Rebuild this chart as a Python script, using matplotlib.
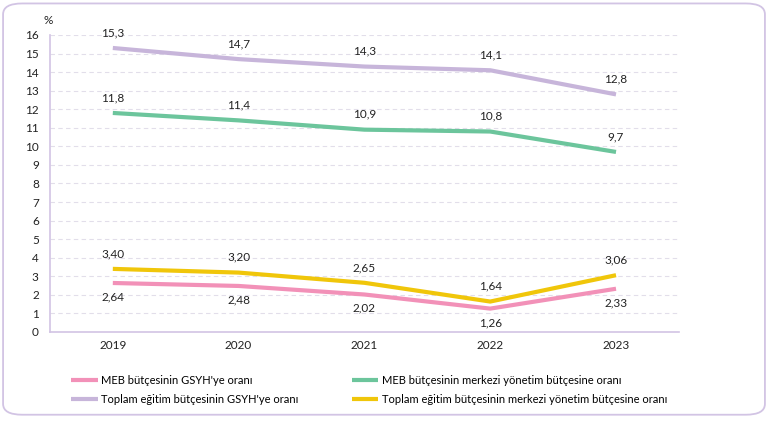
import matplotlib.pyplot as plt
from matplotlib.patches import FancyBboxPatch

plt.rcParams['font.family'] = ['Lato', 'DejaVu Sans']

years = ['2019', '2020', '2021', '2022', '2023']
meb_gsyh = [2.64, 2.48, 2.02, 1.26, 2.33]
meb_merkezi = [11.8, 11.4, 10.9, 10.8, 9.7]
toplam_gsyh = [15.3, 14.7, 14.3, 14.1, 12.8]
toplam_merkezi = [3.40, 3.20, 2.65, 1.64, 3.06]

meb_gsyh_lbl = ['2,64', '2,48', '2,02', '1,26', '2,33']
meb_merkezi_lbl = ['11,8', '11,4', '10,9', '10,8', '9,7']
toplam_gsyh_lbl = ['15,3', '14,7', '14,3', '14,1', '12,8']
toplam_merkezi_lbl = ['3,40', '3,20', '2,65', '1,64', '3,06']

names = ["MEB bütçesinin GSYH'ye oranı",
         "MEB bütçesinin merkezi yönetim bütçesine oranı",
         "Toplam eğitim bütçesinin GSYH'ye oranı",
         "Toplam eğitim bütçesinin merkezi yönetim bütçesine oranı"]

pink = '#f291b8'
green = '#6cc59c'
lilac = '#c7b5da'
yellow = '#f0c60a'
border = '#d2c4e4'

fig = plt.figure(figsize=(7.68, 4.32), dpi=100)
fig.patches.append(FancyBboxPatch((0.004, 0.04), 0.992, 0.952,
                                  boxstyle='round,pad=0,rounding_size=0.025',
                                  transform=fig.transFigure, fill=False,
                                  edgecolor=border, linewidth=1.3))

ax = fig.add_axes([0.065, 0.2315, 0.819, 0.6875])
x = list(range(len(years)))

series = [(meb_gsyh, meb_gsyh_lbl, pink, -10),
          (meb_merkezi, meb_merkezi_lbl, green, 11),
          (toplam_gsyh, toplam_gsyh_lbl, lilac, 11),
          (toplam_merkezi, toplam_merkezi_lbl, yellow, 11)]

lines = []
for (vals, lbls, col, off), name in zip(series, names):
    ln, = ax.plot(x, vals, color=col, lw=3, label=name, solid_capstyle='butt')
    lines.append(ln)
    for xi, v, t in zip(x, vals, lbls):
        ax.annotate(t, (xi, v), xytext=(0, off), textcoords='offset points',
                    ha='center', va='center', fontsize=8.5, color='#222222')

ax.set_xlim(-0.5, 4.5)
ax.set_ylim(0, 16)
ax.set_yticks(range(0, 17))
ax.set_xticks(x)
ax.set_xticklabels(years)
ax.tick_params(length=0, labelsize=8.5, colors='#222222')
ax.tick_params(axis='x', pad=6)
ax.tick_params(axis='y', pad=8)
ax.grid(axis='y', color='#e2deea', linestyle=(0, (4, 3)), lw=0.8)
ax.set_axisbelow(True)
for s in ['top', 'right']:
    ax.spines[s].set_visible(False)
for s in ['left', 'bottom']:
    ax.spines[s].set_color(border)
    ax.spines[s].set_linewidth(1.2)

fig.text(0.063, 0.952, '%', fontsize=8.5, ha='center', va='center', color='#222222')

leg_kw = dict(loc='upper left', frameon=False, fontsize=8, handlelength=2.4,
              handletextpad=0.3, labelspacing=0.75, borderaxespad=0, borderpad=0)
fig.legend([lines[0], lines[2]], [names[0], names[2]],
           bbox_to_anchor=(0.093, 0.133), **leg_kw)
fig.legend([lines[1], lines[3]], [names[1], names[3]],
           bbox_to_anchor=(0.458, 0.133), **leg_kw)

fig.savefig('out.png', dpi=100)
